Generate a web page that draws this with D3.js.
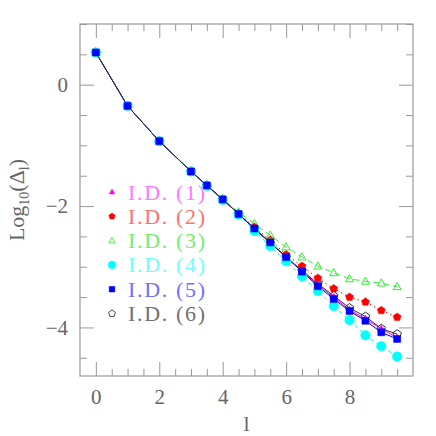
<!DOCTYPE html>
<html>
<head>
<meta charset="utf-8">
<script src="https://cdn.jsdelivr.net/npm/d3@7"></script>
<style>
  html, body { margin: 0; padding: 0; background: #fff; }
  svg { display: block; }
  text { font-family: "Liberation Serif", "DejaVu Serif", serif; }
</style>
</head>
<body>
<div id="chart"></div>
<script>
// ---- data ----
const ls = [0, 1, 2, 3, 3.5, 4, 4.5, 5, 5.5, 6, 6.5, 7, 7.5, 8, 8.5, 9, 9.5];
const id1 = [0.53, -0.35, -0.93, -1.43, -1.66, -1.89, -2.13, -2.37, -2.60, -2.84, -3.07, -3.30, -3.50, -3.71, -3.86, -4.02, -4.17];
const id2 = [0.53, -0.35, -0.93, -1.43, -1.66, -1.89, -2.12, -2.35, -2.56, -2.80, -2.99, -3.19, -3.36, -3.50, -3.58, -3.72, -3.83];
const id3 = [0.53, -0.35, -0.93, -1.42, -1.65, -1.88, -2.10, -2.29, -2.48, -2.675, -2.84, -2.99, -3.10, -3.20, -3.24, -3.27, -3.33];
const id4 = [0.53, -0.35, -0.93, -1.43, -1.67, -1.90, -2.14, -2.41, -2.66, -2.91, -3.16, -3.40, -3.65, -3.88, -4.13, -4.31, -4.48];
const id5 = [0.53, -0.35, -0.93, -1.43, -1.66, -1.89, -2.13, -2.37, -2.60, -2.84, -3.08, -3.32, -3.53, -3.73, -3.89, -4.08, -4.19];
const id6 = [0.53, -0.35, -0.93, -1.43, -1.66, -1.89, -2.13, -2.38, -2.61, -2.84, -3.06, -3.28, -3.48, -3.68, -3.82, -4.02, -4.11];
const seriesNames = ["I.D. (1)", "I.D. (2)", "I.D. (3)", "I.D. (4)", "I.D. (5)", "I.D. (6)"];
const xMajorTicks = [0, 2, 4, 6, 8];
const yMajorTicks = [0, -2, -4];

// ---- styles ----
const W = 436, H = 436;
const frame = { left: 80, right: 413, top: 24, bottom: 376 };
const styles = [
  { color: "#ff00ff", text: "#ff77ff", sym: "triangle", fill: true, size: 7, dash: null },
  { color: "#ff0000", text: "#ff7070", sym: "pentagon", fill: true, size: 8, dash: "1.5,3" },
  { color: "#33ee33", text: "#70ee70", sym: "triangle", fill: false, size: 8, dash: "6,4" },
  { color: "#00ffff", text: "#70ffff", sym: "circle", fill: true, size: 9.5, dash: "4,3" },
  { color: "#0000ff", text: "#7070ff", sym: "square", fill: true, size: 7, dash: null },
  { color: "#333333", text: "#707070", sym: "pentagon", fill: false, size: 8.5, dash: null }
];
const allSeries = [id1, id2, id3, id4, id5, id6];

const svg = d3.select("#chart").append("svg").attr("width", W).attr("height", H);

const x = d3.scaleLinear().domain([-0.5, 10]).range([frame.left, frame.right]);
const y = d3.scaleLinear().domain([-4.8, 1]).range([frame.bottom, frame.top]);

const axisColor = "#999";
const labelColor = "#666";

function styleAxis(g) {
  g.select(".domain").remove();
  g.selectAll(".tick line").attr("stroke", axisColor).attr("stroke-width", 1);
  g.selectAll(".tick text").attr("fill", labelColor).attr("font-size", 21)
    .attr("font-family", "'Liberation Serif', serif");
}

const xMinor = d3.range(0, 10, 0.5).filter(v => !xMajorTicks.includes(v));
const yMinor = d3.range(-4.5, 1.01, 0.5).filter(v => !yMajorTicks.includes(v));
const fmt = d => d < 0 ? "\u2212" + Math.abs(d) : String(d);

// bottom
svg.append("g").attr("transform", `translate(0,${frame.bottom})`)
  .call(d3.axisBottom(x).tickValues(xMajorTicks).tickSize(-14).tickPadding(13).tickFormat(fmt)).call(styleAxis);
svg.append("g").attr("transform", `translate(0,${frame.bottom})`)
  .call(d3.axisBottom(x).tickValues(xMinor).tickSize(-7).tickFormat("")).call(styleAxis);
// top
svg.append("g").attr("transform", `translate(0,${frame.top})`)
  .call(d3.axisTop(x).tickValues(xMajorTicks).tickSize(-14).tickFormat("")).call(styleAxis);
svg.append("g").attr("transform", `translate(0,${frame.top})`)
  .call(d3.axisTop(x).tickValues(xMinor).tickSize(-7).tickFormat("")).call(styleAxis);
// left
svg.append("g").attr("transform", `translate(${frame.left},0)`)
  .call(d3.axisLeft(y).tickValues(yMajorTicks).tickSize(-14).tickPadding(12).tickFormat(fmt)).call(styleAxis);
svg.append("g").attr("transform", `translate(${frame.left},0)`)
  .call(d3.axisLeft(y).tickValues(yMinor).tickSize(-7).tickFormat("")).call(styleAxis);
// right
svg.append("g").attr("transform", `translate(${frame.right},0)`)
  .call(d3.axisRight(y).tickValues(yMajorTicks).tickSize(-14).tickFormat("")).call(styleAxis);
svg.append("g").attr("transform", `translate(${frame.right},0)`)
  .call(d3.axisRight(y).tickValues(yMinor).tickSize(-7).tickFormat("")).call(styleAxis);

// frame
svg.append("rect").attr("x", frame.left).attr("y", frame.top)
  .attr("width", frame.right - frame.left).attr("height", frame.bottom - frame.top)
  .attr("fill", "none").attr("stroke", axisColor).attr("stroke-width", 1.2);

// axis titles
svg.append("text").attr("x", (frame.left + frame.right) / 2).attr("y", 431)
  .attr("text-anchor", "middle").attr("fill", labelColor).attr("font-size", 22).text("l");

const yl = svg.append("text").attr("transform", `translate(24,${(frame.top + frame.bottom) / 2}) rotate(-90)`)
  .attr("text-anchor", "middle").attr("fill", labelColor).attr("font-size", 22);
yl.append("tspan").text("Log");
yl.append("tspan").attr("font-size", 14).attr("dy", 5).text("10");
yl.append("tspan").attr("dy", -5).text("(\u0394");
yl.append("tspan").attr("font-size", 14).attr("dy", 5).text("l");
yl.append("tspan").attr("dy", -5).text(")");

// symbol helper
function symPath(sym, size) {
  const r = size / 2;
  if (sym === "square") return `M${-r},${-r}h${size}v${size}h${-size}Z`;
  if (sym === "circle") return d3.symbol().type(d3.symbolCircle).size(Math.PI * r * r)();
  if (sym === "triangle") {
    const h = size * 0.9;
    return `M0,${-h * 0.6}L${r},${h * 0.4}L${-r},${h * 0.4}Z`;
  }
  if (sym === "pentagon") {
    const pts = d3.range(5).map(i => {
      const a = -Math.PI / 2 + i * 2 * Math.PI / 5;
      return [r * 1.05 * Math.cos(a), r * 1.05 * Math.sin(a)];
    });
    return "M" + pts.map(p => p.join(",")).join("L") + "Z";
  }
}

const plot = svg.append("g");
const line = d3.line().x((d, i) => x(ls[i])).y(d => y(d));

// lines
allSeries.forEach((vals, k) => {
  const st = styles[k];
  plot.append("path").datum(vals).attr("d", line)
    .attr("fill", "none").attr("stroke", st.color).attr("stroke-width", 1)
    .attr("stroke-dasharray", st.dash);
});

// markers (draw order: 6,1,2,3,4,5)
[5, 0, 1, 2, 3, 4].forEach(k => {
  const st = styles[k];
  plot.append("g").selectAll("path").data(allSeries[k]).join("path")
    .attr("transform", (d, i) => `translate(${x(ls[i])},${y(d)})`)
    .attr("d", symPath(st.sym, st.size))
    .attr("fill", st.fill ? st.color : "none")
    .attr("stroke", st.color).attr("stroke-width", st.fill ? 0.5 : 1);
});

// legend
const leg = svg.append("g");
seriesNames.forEach((name, k) => {
  const st = styles[k];
  const ly = 192 + k * 24.3;
  leg.append("path").attr("transform", `translate(112,${ly})`)
    .attr("d", symPath(st.sym, st.size * 0.8))
    .attr("fill", st.fill ? st.color : "none")
    .attr("stroke", st.color).attr("stroke-width", st.fill ? 0.5 : 0.9);
  leg.append("text").attr("x", 128).attr("y", ly + 7.5)
    .attr("fill", st.text).attr("font-size", 22)
    .attr("textLength", 77).attr("lengthAdjust", "spacing")
    .text(name);
});
</script>
</body>
</html>
